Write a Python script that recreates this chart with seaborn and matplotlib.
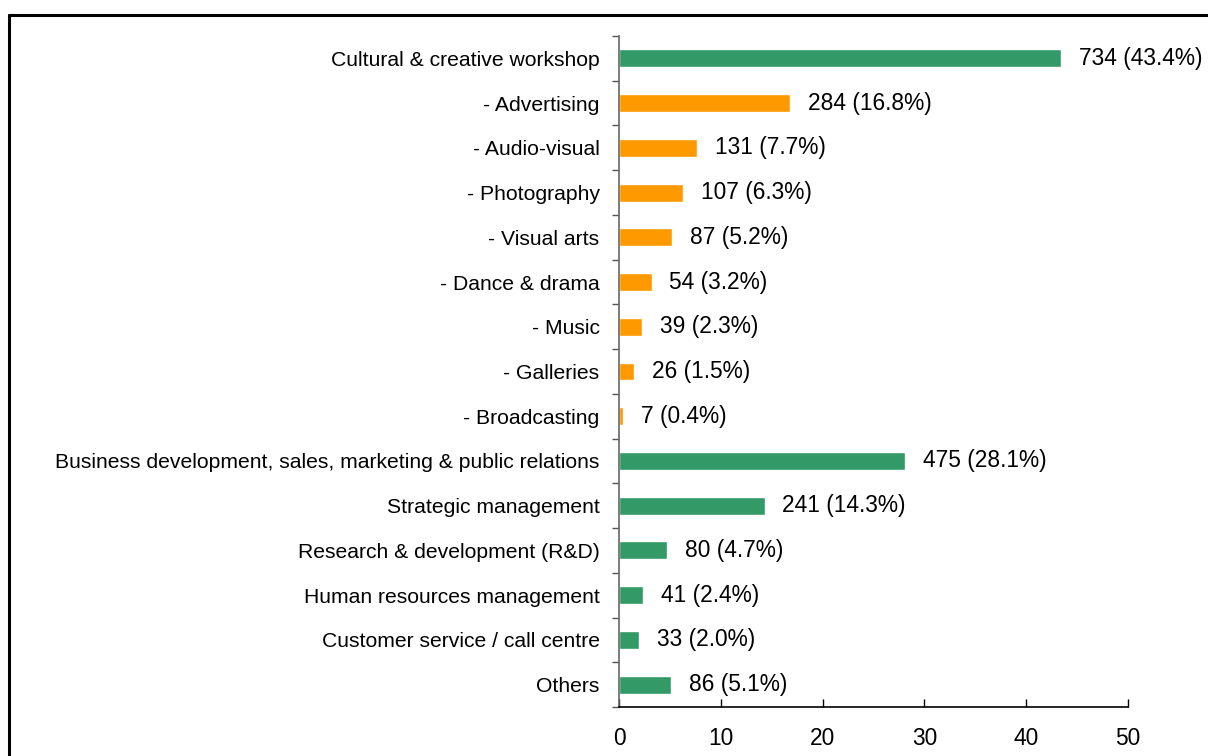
import matplotlib
matplotlib.use("Agg")
import matplotlib.pyplot as plt
from matplotlib.lines import Line2D
import seaborn as sns
import pandas as pd
import numpy as np

categories = [
    "Cultural & creative workshop",
    "- Advertising",
    "- Audio-visual",
    "- Photography",
    "- Visual arts",
    "- Dance & drama",
    "- Music",
    "- Galleries",
    "- Broadcasting",
    "Business development, sales, marketing & public relations",
    "Strategic management",
    "Research & development (R&D)",
    "Human resources management",
    "Customer service / call centre",
    "Others",
]
counts = [734, 284, 131, 107, 87, 54, 39, 26, 7, 475, 241, 80, 41, 33, 86]
percents = [43.4, 16.8, 7.7, 6.3, 5.2, 3.2, 2.3, 1.5, 0.4, 28.1, 14.3, 4.7, 2.4, 2.0, 5.1]
groups = ["main", "sub", "sub", "sub", "sub", "sub", "sub", "sub", "sub",
          "main", "main", "main", "main", "main", "main"]
x_ticks = [0, 10, 20, 30, 40, 50]

df = pd.DataFrame({"category": categories, "count": counts,
                   "percent": percents, "group": groups})

sns.set_theme(style="white")
plt.rcParams["font.family"] = ["Liberation Sans", "DejaVu Sans"]
plt.rcParams["text.color"] = "black"
plt.rcParams["xtick.color"] = "black"
plt.rcParams["ytick.color"] = "black"
plt.rcParams["xtick.labelcolor"] = "black"
plt.rcParams["ytick.labelcolor"] = "black"

fig = plt.figure(figsize=(12.08, 7.56), dpi=100)
ax = fig.add_axes([619 / 1208, 1 - 707 / 756, (1128 - 619) / 1208, (707 - 36) / 756])

palette = {"main": "#339966", "sub": "#FF9900"}
sns.barplot(data=df, y="category", x="percent", hue="group", palette=palette,
            order=categories, dodge=False, width=0.4, orient="h",
            legend=False, ax=ax, saturation=1)

# value labels: count and share
for i, (c, p) in enumerate(zip(counts, percents)):
    ax.text(p + 1.75, i, f"{c} ({p:.1f}%)", va="center", ha="left",
            fontsize=16.4, color="black")

ax.set_xlim(0, 50)
ax.set_ylim(len(categories) - 0.5, -0.5)
ax.set_xticks(x_ticks)
ax.set_xticklabels([str(t) for t in x_ticks], fontsize=16.4)
ax.set_xlabel("")
ax.set_ylabel("")
ax.tick_params(axis="x", direction="in", length=6, width=1, color="black",
               pad=14.5, bottom=True, labelcolor="black")
ax.tick_params(axis="y", which="major", length=0, pad=14, labelsize=15.2,
               labelcolor="black")
ax.set_yticks(np.arange(-0.5, len(categories), 1.0), minor=True)
ax.tick_params(axis="y", which="minor", direction="out", length=5, width=1,
               color="#555555", left=True)

for side in ["top", "right"]:
    ax.spines[side].set_visible(False)
ax.spines["left"].set_color("#666666")
ax.spines["left"].set_linewidth(1.2)
ax.spines["bottom"].set_color("black")
ax.spines["bottom"].set_linewidth(1.2)
ax.grid(False)

# outer frame (top and left edges)
fx = 9 / 1208
fy = 1 - 15 / 756
fig.add_artist(Line2D([fx, 1], [fy, fy], transform=fig.transFigure,
                      color="black", linewidth=2.2))
fig.add_artist(Line2D([fx, fx], [0, fy], transform=fig.transFigure,
                      color="black", linewidth=2.2))

fig.savefig("out.png", dpi=100, facecolor="white")
